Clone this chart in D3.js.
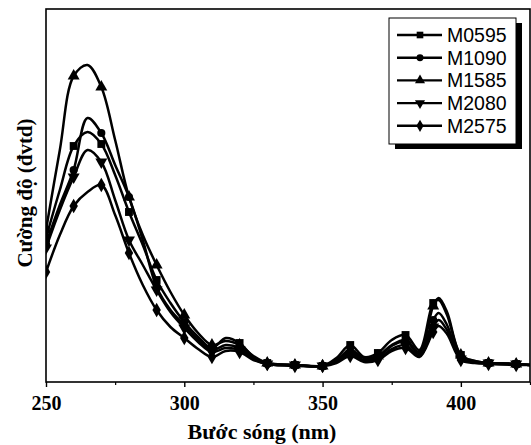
<!DOCTYPE html>
<html>
<head>
<meta charset="utf-8">
<script src="https://cdn.jsdelivr.net/npm/d3@7"></script>
<style>
  html, body { margin: 0; padding: 0; background: #fff; }
  svg { display: block; }
</style>
</head>
<body>
<svg id="chart" width="531" height="445"></svg>
<script>
// Emission spectra, intensity in arbitrary units
const wavelengths = [250, 255, 260, 265, 270, 275, 280, 285, 290, 295, 300, 305, 310, 315, 320, 325, 330, 340, 350, 355, 360, 365, 370, 375, 380, 385, 390, 392, 395, 400, 405, 410, 420, 425];

const seriesNames = ["M0595", "M1090", "M1585", "M2080", "M2575"];

const M0595 = [144, 192, 236, 250, 238, 207, 170, 137, 102, 79, 60, 45, 34, 44, 39, 25, 19, 17, 16, 24, 37, 25, 29, 42, 47, 32, 79, 82, 67, 27, 21, 19, 18, 17];
const M1090 = [138, 177, 212, 264, 249, 217, 185, 142, 95, 72, 57, 42, 32, 37, 34, 24, 18, 17, 16, 21, 30, 22, 25, 36, 41, 28, 62, 69, 57, 24, 20, 19, 18, 17];
const M1585 = [152, 232, 306, 317, 295, 242, 185, 147, 117, 90, 67, 49, 37, 41, 37, 26, 19, 17, 16, 22, 32, 24, 26, 37, 42, 30, 76, 84, 70, 27, 21, 19, 18, 17];
const M2080 = [134, 172, 205, 232, 220, 182, 142, 117, 92, 70, 54, 40, 30, 34, 32, 23, 18, 17, 16, 20, 28, 21, 23, 33, 37, 26, 55, 62, 52, 23, 20, 19, 18, 17];
const M2575 = [110, 147, 176, 190, 197, 167, 129, 97, 72, 55, 44, 33, 25, 31, 30, 22, 18, 16, 16, 19, 26, 20, 22, 31, 34, 25, 50, 56, 48, 22, 19, 18, 17, 17];

const seriesValues = [M0595, M1090, M1585, M2080, M2575];
const markerTypes = [d3.symbolSquare, d3.symbolCircle, d3.symbolTriangle, d3.symbolTriangle, d3.symbolDiamond];
const markerRotate = [0, 0, 0, 180, 0];

const xTicks = [250, 300, 350, 400];
const xMinorTicks = [275, 325, 375, 425];

const xTitle = "Bước sóng (nm)";
const yTitle = "Cường độ (đvtd)";

// ---- layout ----
const svg = d3.select("#chart");
const plotL = 46, plotR = 530, plotT = 9, plotB = 382;
const serif = "'Liberation Serif', 'Times New Roman', serif";

const x = d3.scaleLinear().domain([250, 425]).range([plotL, plotR]);
const y = d3.scaleLinear().domain([0, 373]).range([plotB, plotT]);

// spectra lines
const line = d3.line()
  .x((d) => x(d[0]))
  .y((d) => y(d[1]))
  .curve(d3.curveCatmullRom.alpha(0.5));

const plot = svg.append("g");
plot.append("clipPath").attr("id", "clip")
  .append("rect").attr("x", plotL).attr("y", plotT).attr("width", plotR - plotL).attr("height", plotB - plotT);

const drawOrder = [4, 3, 1, 0, 2];
drawOrder.forEach((i) => {
  const pts = wavelengths.map((w, k) => [w, seriesValues[i][k]]);
  const g = plot.append("g").attr("clip-path", "url(#clip)");
  g.append("path")
    .attr("d", line(pts))
    .attr("fill", "none")
    .attr("stroke", "#000")
    .attr("stroke-width", 2.5)
    .attr("stroke-linejoin", "round");
  const sym = d3.symbol().type(markerTypes[i]).size(markerTypes[i] === d3.symbolCircle ? 52 : 62);
  g.selectAll("path.m")
    .data(pts.filter((p) => p[0] % 10 === 0))
    .join("path")
    .attr("class", "m")
    .attr("d", sym)
    .attr("fill", "#000")
    .attr("transform", (p) => `translate(${x(p[0])},${y(p[1])}) rotate(${markerRotate[i]})`);
});

// frame
svg.append("rect")
  .attr("x", plotL).attr("y", plotT)
  .attr("width", plotR - plotL).attr("height", plotB - plotT)
  .attr("fill", "none").attr("stroke", "#000").attr("stroke-width", 1.6);

// x axis
const xAxis = d3.axisBottom(x).tickValues(xTicks).tickSize(5).tickFormat(d3.format("d"));
const ax = svg.append("g").attr("transform", `translate(0,${plotB})`).call(xAxis);
ax.select(".domain").remove();
ax.selectAll(".tick line").attr("stroke", "#000").attr("stroke-width", 1.4);
ax.selectAll(".tick text")
  .attr("y", 14)
  .attr("dy", "0.71em")
  .attr("fill", "#000")
  .style("font-family", serif)
  .style("font-weight", "bold")
  .style("font-size", "20px");

const axMinor = d3.axisBottom(x).tickValues(xMinorTicks).tickSize(3).tickFormat("");
const am = svg.append("g").attr("transform", `translate(0,${plotB})`).call(axMinor);
am.select(".domain").remove();
am.selectAll(".tick line").attr("stroke", "#000").attr("stroke-width", 1.2);

// axis titles
svg.append("text")
  .attr("x", 262).attr("y", 439)
  .attr("text-anchor", "middle")
  .style("font-family", serif)
  .style("font-weight", "bold")
  .style("font-size", "22px")
  .text(xTitle);

svg.append("text")
  .attr("transform", "translate(32,193) rotate(-90)")
  .attr("text-anchor", "middle")
  .style("font-family", serif)
  .style("font-weight", "bold")
  .style("font-size", "21px")
  .text(yTitle);

// legend with drop shadow
const lg = svg.append("g");
const lx = 389, ly = 18, lw = 127, lh = 126;
lg.append("rect").attr("x", lx + 6).attr("y", ly + 5).attr("width", lw).attr("height", lh).attr("fill", "#000");
lg.append("rect").attr("x", lx).attr("y", ly).attr("width", lw).attr("height", lh)
  .attr("fill", "#fff").attr("stroke", "#000").attr("stroke-width", 1);

seriesNames.forEach((name, i) => {
  const cy = 35 + i * 22.7;
  lg.append("line").attr("x1", 397).attr("x2", 442).attr("y1", cy).attr("y2", cy)
    .attr("stroke", "#000").attr("stroke-width", 2.4);
  lg.append("path")
    .attr("d", d3.symbol().type(markerTypes[i]).size(markerTypes[i] === d3.symbolCircle ? 38 : 44))
    .attr("fill", "#000")
    .attr("transform", `translate(420,${cy}) rotate(${markerRotate[i]})`);
  lg.append("text")
    .attr("x", 447).attr("y", cy).attr("dy", "0.36em")
    .style("font-family", "'Liberation Sans', Arial, sans-serif")
    .style("font-size", "19.5px")
    .attr("fill", "#000")
    .text(name);
});
</script>
</body>
</html>
